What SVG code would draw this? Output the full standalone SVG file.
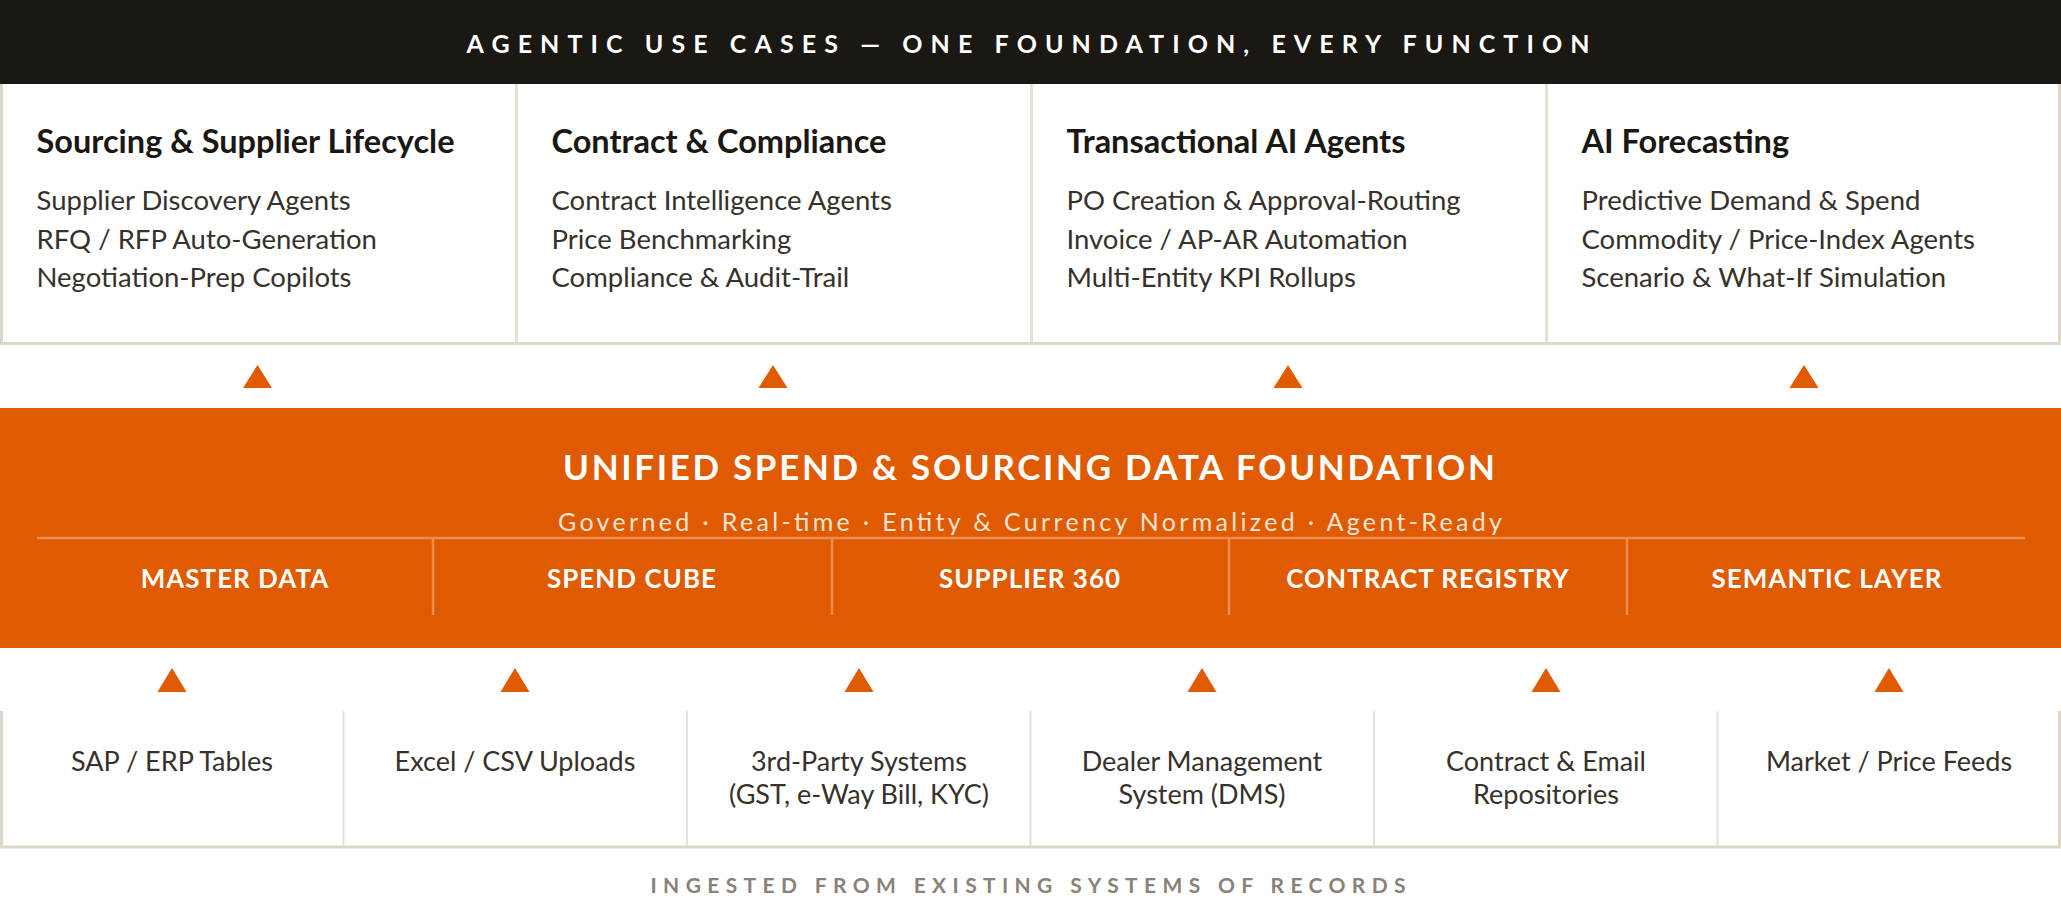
<svg xmlns="http://www.w3.org/2000/svg" width="2061" height="903" viewBox="0 0 2061 903">
<defs>
<style>
text{font-family:Lato,"Open Sans","Liberation Sans",sans-serif}
.hdr{font-size:25px;font-weight:700;fill:#ffffff}
.h{font-size:32.5px;font-weight:700;fill:#1b1713}
.it{font-size:27.5px;font-weight:400;fill:#37312b}
.ttl{font-size:35px;font-weight:700;fill:#ffffff}
.sub{font-size:25px;font-weight:400;fill:#fbe4d4}
.lab{font-size:26px;font-weight:700;fill:#ffffff;letter-spacing:1px}
.src{font-size:27px;font-weight:400;fill:#37312b}
.ftr{font-size:21px;font-weight:700;fill:#8a8276}
.tri{fill:#e05a00}
.bd{fill:#ddd6c9}
.dv{fill:#e6e1d7}
.ol{stroke:#ee8c52;stroke-width:2.5;fill:none}
</style>
</defs>
<rect width="2061" height="903" fill="#ffffff"/>

<g id="header">
<rect x="0" y="0" width="2061" height="84" fill="#1b1713"/>
<text class="hdr" x="1028" y="53" text-anchor="middle" textLength="1123" lengthAdjust="spacing">AGENTIC USE CASES — ONE FOUNDATION, EVERY FUNCTION</text>
</g>

<g id="use-case-frame">
<rect class="bd" x="0" y="84" width="3" height="261"/>
<rect class="bd" x="2058" y="84" width="3" height="261"/>
<rect class="dv" x="515" y="84" width="3" height="258"/>
<rect class="dv" x="1030" y="84" width="3" height="258"/>
<rect class="dv" x="1545" y="84" width="3" height="258"/>
<rect class="bd" x="0" y="342" width="2061" height="3"/>
</g>

<g id="card-sourcing">
<text class="h" x="36.5" y="153">Sourcing &amp; Supplier Lifecycle</text>
<text class="it" x="36.5" y="210">Supplier Discovery Agents</text>
<text class="it" x="36.5" y="248.5">RFQ / RFP Auto-Generation</text>
<text class="it" x="36.5" y="287">Negotiation-Prep Copilots</text>
</g>
<g id="card-contract">
<text class="h" x="551.5" y="153">Contract &amp; Compliance</text>
<text class="it" x="551.5" y="210">Contract Intelligence Agents</text>
<text class="it" x="551.5" y="248.5">Price Benchmarking</text>
<text class="it" x="551.5" y="287">Compliance &amp; Audit-Trail</text>
</g>
<g id="card-transactional">
<text class="h" x="1066.5" y="153">Transactional AI Agents</text>
<text class="it" x="1066.5" y="210">PO Creation &amp; Approval-Routing</text>
<text class="it" x="1066.5" y="248.5">Invoice / AP-AR Automation</text>
<text class="it" x="1066.5" y="287">Multi-Entity KPI Rollups</text>
</g>
<g id="card-forecasting">
<text class="h" x="1581.5" y="153">AI Forecasting</text>
<text class="it" x="1581.5" y="210">Predictive Demand &amp; Spend</text>
<text class="it" x="1581.5" y="248.5">Commodity / Price-Index Agents</text>
<text class="it" x="1581.5" y="287">Scenario &amp; What-If Simulation</text>
</g>

<g id="connectors">
<polygon class="tri" points="243,388 272,388 257.5,365"/>
<polygon class="tri" points="758.5,388 787.5,388 773,365"/>
<polygon class="tri" points="1273.5,388 1302.5,388 1288,365"/>
<polygon class="tri" points="1789.5,388 1818.5,388 1804,365"/>
<polygon class="tri" points="157.5,692 186.5,692 172,668"/>
<polygon class="tri" points="500.5,692 529.5,692 515,668"/>
<polygon class="tri" points="844.5,692 873.5,692 859,668"/>
<polygon class="tri" points="1187.5,692 1216.5,692 1202,668"/>
<polygon class="tri" points="1531.5,692 1560.5,692 1546,668"/>
<polygon class="tri" points="1874.5,692 1903.5,692 1889,668"/>
</g>

<g id="foundation">
<rect x="0" y="408" width="2061" height="240" fill="#e05a00"/>
<text class="ttl" x="1029" y="480" text-anchor="middle" textLength="932" lengthAdjust="spacing">UNIFIED SPEND &amp; SOURCING DATA FOUNDATION</text>
<text class="sub" x="1030" y="531" text-anchor="middle" textLength="944" lengthAdjust="spacing">Governed · Real-time · Entity &amp; Currency Normalized · Agent-Ready</text>
<line class="ol" x1="37" y1="538" x2="2025" y2="538"/>
<line class="ol" x1="433" y1="539" x2="433" y2="615"/>
<line class="ol" x1="832" y1="539" x2="832" y2="615"/>
<line class="ol" x1="1229" y1="539" x2="1229" y2="615"/>
<line class="ol" x1="1627" y1="539" x2="1627" y2="615"/>
</g>
<g id="layer-master"><text class="lab" x="235" y="588" text-anchor="middle">MASTER DATA</text></g>
<g id="layer-spend"><text class="lab" x="632" y="588" text-anchor="middle">SPEND CUBE</text></g>
<g id="layer-supplier"><text class="lab" x="1030" y="588" text-anchor="middle">SUPPLIER 360</text></g>
<g id="layer-contract"><text class="lab" x="1428" y="588" text-anchor="middle">CONTRACT REGISTRY</text></g>
<g id="layer-semantic"><text class="lab" x="1827" y="588" text-anchor="middle">SEMANTIC LAYER</text></g>

<g id="source-frame">
<rect class="bd" x="0" y="711" width="3" height="137"/>
<rect class="bd" x="2058" y="711" width="3" height="137"/>
<rect class="dv" x="342.5" y="711" width="2" height="135"/>
<rect class="dv" x="686" y="711" width="2" height="135"/>
<rect class="dv" x="1029.5" y="711" width="2" height="135"/>
<rect class="dv" x="1373" y="711" width="2" height="135"/>
<rect class="dv" x="1716.5" y="711" width="2" height="135"/>
<rect class="bd" x="0" y="845.5" width="2061" height="3"/>
</g>
<g id="src-sap"><text class="src" x="172" y="771" text-anchor="middle">SAP / ERP Tables</text></g>
<g id="src-excel"><text class="src" x="515" y="771" text-anchor="middle">Excel / CSV Uploads</text></g>
<g id="src-3rd"><text class="src" x="859" y="771" text-anchor="middle">3rd-Party Systems</text><text class="src" x="859" y="804" text-anchor="middle">(GST, e-Way Bill, KYC)</text></g>
<g id="src-dms"><text class="src" x="1202" y="771" text-anchor="middle">Dealer Management</text><text class="src" x="1202" y="804" text-anchor="middle">System (DMS)</text></g>
<g id="src-contract"><text class="src" x="1546" y="771" text-anchor="middle">Contract &amp; Email</text><text class="src" x="1546" y="804" text-anchor="middle">Repositories</text></g>
<g id="src-market"><text class="src" x="1889" y="771" text-anchor="middle">Market / Price Feeds</text></g>

<g id="footer">
<text class="ftr" x="1028" y="893" text-anchor="middle" textLength="755" lengthAdjust="spacing">INGESTED FROM EXISTING SYSTEMS OF RECORDS</text>
</g>
</svg>
